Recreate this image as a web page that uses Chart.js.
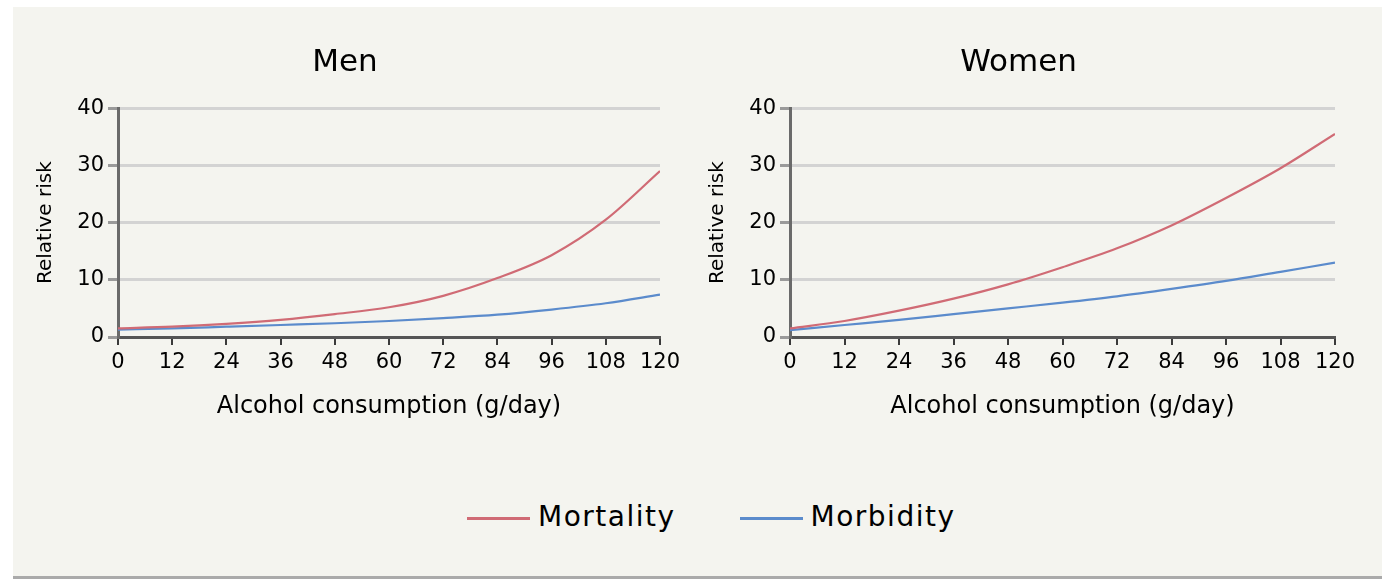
<!DOCTYPE html>
<html lang="en">
<head>
    <meta charset="UTF-8">
    <title>Relative risk by alcohol consumption</title>
    <script src="https://cdn.jsdelivr.net/npm/chart.js"></script>
    <style>
        body {
            margin: 0;
            background: #ffffff;
            font-family: 'DejaVu Sans', sans-serif;
        }

        .panel {
            position: absolute;
            left: 13px;
            top: 7px;
            width: 1369px;
            height: 569px;
            background: #f4f4ef;
            border-bottom: 3px solid #aaaaaa;
        }

        .chart-box {
            position: absolute;
            top: 0;
            height: 437px;
        }

        .legend {
            position: absolute;
            left: 467px;
            top: 500px;
            display: flex;
            align-items: center;
            font-size: 28px;
            letter-spacing: 1.5px;
            color: #000;
        }

        .legend .item {
            display: flex;
            align-items: center;
            margin-right: 64px;
        }

        .legend .swatch {
            display: inline-block;
            width: 63px;
            height: 3px;
            margin-right: 8px;
            margin-top: 4px;
        }
    </style>
</head>
<body>
    <div class="panel"></div>
    <div class="chart-box" style="left:0;width:690px;">
        <canvas id="menChart" width="690" height="437"></canvas>
    </div>
    <div class="chart-box" style="left:672px;width:693px;">
        <canvas id="womenChart" width="693" height="437"></canvas>
    </div>
    <div class="legend">
        <div class="item"><span class="swatch" style="background:#d06b75"></span>Mortality</div>
        <div class="item"><span class="swatch" style="background:#5b8bcc"></span>Morbidity</div>
    </div>

    <script>
        // values
        const consumption = [0, 12, 24, 36, 48, 60, 72, 84, 96, 108, 120];
        const menMortality = [1.5, 1.8, 2.3, 3.0, 4.0, 5.2, 7.2, 10.3, 14.3, 20.5, 29.0];
        const menMorbidity = [1.3, 1.5, 1.8, 2.1, 2.4, 2.8, 3.3, 3.9, 4.8, 5.9, 7.4];
        const womenMortality = [1.5, 2.8, 4.6, 6.7, 9.2, 12.2, 15.5, 19.5, 24.3, 29.5, 35.5];
        const womenMorbidity = [1.2, 2.1, 3.0, 4.0, 5.0, 6.0, 7.1, 8.4, 9.8, 11.4, 13.0];
        const yTicks = [0, 10, 20, 30, 40];

        Chart.defaults.font.family = "'DejaVu Sans', sans-serif";
        Chart.defaults.color = '#000';

        function toPoints(values) {
            return consumption.map((x, i) => ({ x: x, y: values[i] }));
        }

        function makeChart(id, title, mortality, morbidity) {
            return new Chart(document.getElementById(id), {
                type: 'line',
                data: {
                    datasets: [
                        {
                            label: 'Mortality',
                            data: toPoints(mortality),
                            borderColor: '#d06b75',
                            borderWidth: 2.2,
                            pointRadius: 0,
                            tension: 0.4,
                            cubicInterpolationMode: 'monotone'
                        },
                        {
                            label: 'Morbidity',
                            data: toPoints(morbidity),
                            borderColor: '#5b8bcc',
                            borderWidth: 2.2,
                            pointRadius: 0,
                            tension: 0.4,
                            cubicInterpolationMode: 'monotone'
                        }
                    ]
                },
                options: {
                    responsive: false,
                    animation: false,
                    layout: { padding: { left: 30, right: 30, top: 0, bottom: 0 } },
                    plugins: {
                        legend: { display: false },
                        tooltip: { enabled: false },
                        title: {
                            display: true,
                            text: title,
                            font: { size: 31, weight: 'normal' },
                            padding: { top: 44, bottom: 27 }
                        }
                    },
                    scales: {
                        x: {
                            type: 'linear',
                            min: consumption[0],
                            max: consumption[consumption.length - 1],
                            afterBuildTicks: scale => {
                                scale.ticks = consumption.map(v => ({ value: v }));
                            },
                            afterFit: scale => { scale.height = 100; },
                            grid: {
                                drawOnChartArea: false,
                                tickLength: 8,
                                tickColor: '#3a3a3a',
                                lineWidth: 2
                            },
                            border: { color: '#555', width: 3 },
                            ticks: {
                                font: { size: 21 },
                                padding: 5,
                                maxRotation: 0,
                                autoSkip: false
                            },
                            title: {
                                display: true,
                                text: 'Alcohol consumption (g/day)',
                                font: { size: 24 },
                                padding: { top: 4, bottom: 16 }
                            }
                        },
                        y: {
                            min: yTicks[0],
                            max: yTicks[yTicks.length - 1],
                            afterBuildTicks: scale => {
                                scale.ticks = yTicks.map(v => ({ value: v }));
                            },
                            afterFit: scale => { scale.width = 88; },
                            grid: {
                                color: '#d3d3d3',
                                lineWidth: 3,
                                tickLength: 10,
                                tickColor: '#9a9a9a'
                            },
                            border: { color: '#6a6a6a', width: 3 },
                            ticks: {
                                font: { size: 21 },
                                padding: 4
                            },
                            title: {
                                display: true,
                                text: 'Relative risk',
                                font: { size: 20 },
                                padding: { top: 4, bottom: 4 }
                            }
                        }
                    }
                }
            });
        }

        makeChart('menChart', 'Men', menMortality, menMorbidity);
        makeChart('womenChart', 'Women', womenMortality, womenMorbidity);
    </script>
</body>
</html>
